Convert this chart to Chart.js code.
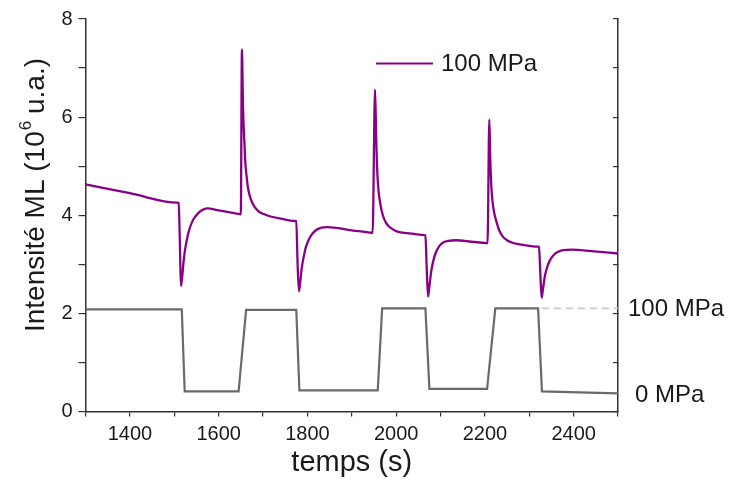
<!DOCTYPE html>
<html>
<head>
<meta charset="utf-8">
<script src="https://cdn.jsdelivr.net/npm/chart.js@4/dist/chart.umd.min.js"></script>
<style>
html,body{margin:0;padding:0;background:#fff;}
#wrap{width:732px;height:480px;position:relative;}
</style>
</head>
<body>
<div id="wrap"><canvas id="c" width="732" height="480"></canvas></div>
<script>
// ---- data ----
const mlTime = [1300,1400,1507,1510,1513,1515,1518,1521,1524,1528,1533,1540,1548,1557,1566,1575,1600,1647,1650,
  1652.5,1655,1658,1660,1663,1666,1670,1675,1681,1690,1700,1715,1740,1772,1775,
  1778,1781,1784,1787,1791,1796,1802,1810,1820,1832,1845,1900,1944,1947,
  1952.5,1955,1958,1961,1965,1970,1977,1985,1997,2010,2040,2063,2066,
  2069,2072,2075,2079,2084,2090,2098,2107,2118,2135,2170,2203,2206,
  2210,2212,2214.5,2217,2221,2226,2232,2240,2250,2262,2290,2319,2322,
  2325,2328,2331,2335,2340,2346,2354,2364,2376,2396,2440,2500];
const mlValue = [4.63,4.45,4.256,4.25,3.3,2.56,2.75,3.05,3.28,3.48,3.68,3.86,3.98,4.07,4.12,4.14,4.10,4.025,4.02,
  7.38,6.2,5.5,5.1,4.8,4.57,4.40,4.27,4.17,4.08,4.03,3.98,3.93,3.883,3.88,
  3.0,2.45,2.65,2.9,3.12,3.33,3.48,3.61,3.70,3.75,3.76,3.69,3.643,3.64,
  6.56,5.6,4.8,4.45,4.2,4.0,3.85,3.76,3.69,3.65,3.62,3.593,3.59,
  2.9,2.34,2.55,2.85,3.08,3.25,3.38,3.45,3.48,3.49,3.46,3.433,3.43,
  5.95,5.2,4.6,4.3,4.05,3.87,3.70,3.57,3.49,3.44,3.39,3.362,3.36,
  2.8,2.32,2.5,2.75,2.93,3.07,3.18,3.25,3.29,3.30,3.27,3.22];
const pressTime = [1300,1517,1523.5,1645,1662,1775,1782,1958.6,1968.5,2066,2075,2205,2223.5,2320,2328.6,2500];
const pressValue = [2.08,2.08,0.41,0.41,2.07,2.07,0.43,0.43,2.1,2.1,0.46,0.46,2.1,2.1,0.41,0.37];
const refTime = [2328.6,2500];
const refValue = [2.1,2.1];
const seriesLabel = '100 MPa';
const pressLabels = ['100 MPa','0 MPa'];
const pressLabelValues = [2.08,0.32];
const xTitle = 'temps (s)';
const yTitleParts = ['Intensité ML (10','6',' u.a.)'];

const toPts = (xs, ys) => xs.map((x,i)=>({x:x,y:ys[i]}));

const FONT = '"Liberation Sans", Arial, sans-serif';
const TXT = '#1a1a1a';
const AX = '#333333';

const decor = {
  id:'decor',
  afterDraw(chart){
    const ctx = chart.ctx;
    const y = chart.scales.y;
    ctx.save();
    // legend
    ctx.strokeStyle = '#880088';
    ctx.lineWidth = 2;
    ctx.beginPath(); ctx.moveTo(376,63.5); ctx.lineTo(433,63.5); ctx.stroke();
    ctx.fillStyle = TXT;
    ctx.font = '24px ' + FONT;
    ctx.textBaseline = 'middle';
    ctx.textAlign = 'left';
    ctx.fillText(seriesLabel, 441, 64);
    // right pressure labels
    ctx.font = '24px ' + FONT;
    ctx.fillText(pressLabels[0], 628, y.getPixelForValue(pressLabelValues[0]));
    ctx.fillText(pressLabels[1], 635, y.getPixelForValue(pressLabelValues[1]));
    // y title with superscript
    ctx.translate(34, 195);
    ctx.rotate(-Math.PI/2);
    const big = '28px ' + FONT, small = '17px ' + FONT;
    ctx.font = big; const w0 = ctx.measureText(yTitleParts[0]).width;
    const w2 = ctx.measureText(yTitleParts[2]).width;
    ctx.font = small; const w1 = ctx.measureText(yTitleParts[1]).width;
    let x = -(w0+w1+w2)/2;
    ctx.textBaseline = 'alphabetic';
    ctx.font = big; ctx.fillText(yTitleParts[0], x, 10); x += w0;
    ctx.font = small; ctx.fillText(yTitleParts[1], x+1, -3); x += w1;
    ctx.font = big; ctx.fillText(yTitleParts[2], x, 10);
    ctx.restore();
  }
};

new Chart(document.getElementById('c'), {
  type:'line',
  data:{
    datasets:[
      {label:seriesLabel, data:toPts(mlTime, mlValue), borderColor:'#880088', borderWidth:2.3, pointRadius:0, cubicInterpolationMode:'monotone', yAxisID:'y'},
      {label:'pression', data:toPts(pressTime, pressValue), borderColor:'#6a6a6a', borderWidth:2.2, pointRadius:0, tension:0, yAxisID:'y'},
      {label:'ref', data:toPts(refTime, refValue), borderColor:'#c8c8c8', borderWidth:1.8, borderDash:[7,5], pointRadius:0, tension:0, yAxisID:'y'}
    ]
  },
  options:{
    responsive:false,
    animation:false,
    layout:{padding:{top:19,left:0,right:0,bottom:0}},
    plugins:{legend:{display:false}, tooltip:{enabled:false}},
    scales:{
      x:{
        type:'linear', min:1300, max:2500,
        border:{display:true, color:AX, width:1.5},
        grid:{drawOnChartArea:false, drawTicks:true, tickLength:5, color:AX, lineWidth:1.2},
        ticks:{stepSize:100, autoSkip:false, maxRotation:0, color:TXT, padding:6,
          font:{family:FONT, size:20},
          callback:(v)=> (v%200===0 && v>1300 && v<2500) ? String(v) : ''},
        title:{display:true, text:xTitle, color:TXT, font:{family:FONT, size:29}, padding:{top:0,bottom:0}},
        afterFit:(s)=>{s.height = 68.5;}
      },
      y:{
        position:'left', min:0, max:8,
        border:{display:true, color:AX, width:1.5},
        grid:{drawOnChartArea:false, drawTicks:true, tickLength:7, color:AX, lineWidth:1.2},
        ticks:{stepSize:1, color:TXT, padding:6, font:{family:FONT, size:20},
          callback:(v)=> (v%2===0) ? String(v) : ''},
        afterFit:(s)=>{s.width = 85.5;}
      },
      y2:{
        position:'right', min:0, max:8,
        border:{display:true, color:AX, width:1.5},
        grid:{drawOnChartArea:false, drawTicks:true, tickLength:-5, color:AX, lineWidth:1.2},
        ticks:{stepSize:1, display:false},
        afterFit:(s)=>{s.width = 114;}
      }
    }
  },
  plugins:[decor]
});
</script>
</body>
</html>
